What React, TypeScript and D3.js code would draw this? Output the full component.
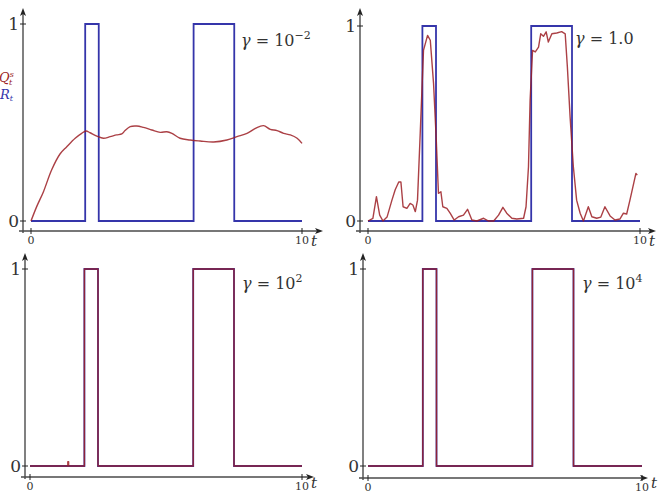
import * as d3 from "d3";

// reference signal R_t: a pair of rectangular pulses
const R_TIMES = [0, 2, 2.5, 6, 7.5, 10];
const R_VALUES = [0, 1, 0, 1, 0, 0];

// Q_t^s for gamma = 1e-2 (slow tracking)
const Q_LOW_T = [0, 0.21, 0.46, 0.76, 1.07, 1.32, 1.63, 1.87, 2.03, 2.18, 2.43, 2.67, 2.92, 3.16, 3.35, 3.47, 3.66, 3.9, 4.15, 4.46, 4.77, 5.01, 5.2, 5.5, 5.87, 6.24, 6.74, 7.23, 7.6, 7.97, 8.28, 8.58, 8.83, 9.08, 9.32, 9.57, 9.82, 10];
const Q_LOW_V = [0, 0.073, 0.149, 0.259, 0.34, 0.377, 0.42, 0.445, 0.457, 0.448, 0.431, 0.42, 0.428, 0.437, 0.442, 0.459, 0.479, 0.482, 0.475, 0.462, 0.45, 0.453, 0.445, 0.42, 0.411, 0.406, 0.401, 0.411, 0.428, 0.445, 0.47, 0.484, 0.465, 0.459, 0.445, 0.437, 0.42, 0.394];

// Q_t^s for gamma = 1.0 (noisy tracking)
const Q_MID_T = [0, 0.18, 0.31, 0.43, 0.55, 0.7, 0.88, 1.0, 1.13, 1.21, 1.29, 1.43, 1.55, 1.65, 1.74, 1.82, 1.92, 2.04, 2.19, 2.29, 2.41, 2.51, 2.59, 2.68, 2.75, 2.9, 3.02, 3.17, 3.33, 3.51, 3.66, 3.82, 4.0, 4.25, 4.43, 4.62, 4.8, 4.96, 5.1, 5.29, 5.47, 5.72, 5.81, 5.9, 5.96, 6.05, 6.15, 6.27, 6.35, 6.45, 6.55, 6.63, 6.76, 6.94, 7.12, 7.25, 7.33, 7.43, 7.55, 7.67, 7.8, 7.92, 8.1, 8.23, 8.41, 8.56, 8.71, 8.9, 9.08, 9.26, 9.39, 9.51, 9.63, 9.85, 9.9];
const Q_MID_V = [0, 0.014, 0.125, 0.03, 0, 0.02, 0.107, 0.16, 0.2, 0.2, 0.073, 0.065, 0.09, 0.082, 0.048, 0.107, 0.45, 0.875, 0.952, 0.927, 0.705, 0.415, 0.142, 0.15, 0.073, 0.065, 0.04, 0.005, 0.022, 0.03, 0.06, 0.005, 0, 0.014, 0, 0, 0.03, 0.07, 0.04, 0.014, 0.01, 0.014, 0.073, 0.278, 0.62, 0.875, 0.867, 0.892, 0.96, 0.947, 0.97, 0.918, 0.96, 0.964, 0.971, 0.96, 0.79, 0.534, 0.278, 0.107, 0.04, 0, 0.073, 0.022, 0.014, 0.02, 0.073, 0.026, 0.005, 0.01, 0.04, 0.036, 0.107, 0.244, 0.235];

// Q_t^s for gamma = 1e2: the pulses plus one small blip
const Q_HIGH_T = [0, 1.39, 1.42, 2, 2.5, 6, 7.5, 10];
const Q_HIGH_V = [0, 0.022, 0, 1, 0, 1, 0, 0];

const GAMMA_BASE = ["10", "1.0", "10", "10"];
const GAMMA_EXP = ["−2", "", "2", "4"];

const BLUE = "#3535aa";
const RED = "#9c1f24";
const AXIS = "#4a4a4a";
const SERIF = "DejaVu Serif";

type Pt = [number, number];
const zip = (t: number[], v: number[]): Pt[] => t.map((d, i) => [d, v[i]]);

interface PanelProps {
  x0: number; x1: number; y0: number; y1: number;
  axisX: number; axisY: number; xEnd: number; yTop: number;
  q: Pt[]; qStep: boolean; qSmooth?: boolean;
  base: string; exp: string; labelX: number; labelY: number;
  showLegend?: boolean;
}

function Panel(p: PanelProps) {
  const x = d3.scaleLinear().domain([0, 10]).range([p.x0, p.x1]);
  const y = d3.scaleLinear().domain([0, 1]).range([p.y0, p.y1]);
  const stepLine = d3.line<Pt>().x(d => x(d[0])).y(d => y(d[1])).curve(d3.curveStepAfter);
  const qLine = d3.line<Pt>().x(d => x(d[0])).y(d => y(d[1]))
    .curve(p.qStep ? d3.curveStepAfter : p.qSmooth ? d3.curveCatmullRom : d3.curveLinear);
  const r = zip(R_TIMES, R_VALUES);
  return (
    <g>
      {/* axes with arrow heads */}
      <line x1={p.axisX - 4} x2={p.xEnd - 4} y1={p.axisY} y2={p.axisY} stroke={AXIS} strokeWidth={1.4} />
      <path d={`M${p.xEnd},${p.axisY} l-8,-3 l2,3 l-2,3 z`} fill="#222" />
      <line x1={p.axisX} x2={p.axisX} y1={p.axisY + 2} y2={p.yTop + 4} stroke={AXIS} strokeWidth={1.4} />
      <path d={`M${p.axisX},${p.yTop} l-3,8 l3,-2 l3,2 z`} fill="#222" />
      {[0, 1].map(v => (
        <g key={v}>
          <line x1={p.axisX - 3} x2={p.axisX + 3} y1={y(v)} y2={y(v)} stroke="#222" strokeWidth={1} />
          <text x={p.axisX - 4} y={y(v) + 6} textAnchor="end" fontFamily={SERIF} fontSize={17} fill="#333">{v}</text>
        </g>
      ))}
      {[0, 10].map(v => (
        <g key={v}>
          <line x1={x(v)} x2={x(v)} y1={p.axisY - 3} y2={p.axisY + 3} stroke="#222" strokeWidth={1} />
          <text x={x(v)} y={p.axisY + 13} textAnchor="middle" fontFamily={SERIF} fontSize={11} fill="#333">{v}</text>
        </g>
      ))}
      <text x={x(10) + 9} y={Math.min(p.axisY + 15, 488)} fontFamily={SERIF} fontStyle="italic" fontSize={15} fill="#333">t</text>
      {/* R_t and Q_t^s */}
      <path d={stepLine(r) ?? ""} fill="none" stroke={BLUE} strokeWidth={1.8} />
      <path d={qLine(p.q) ?? ""} fill="none" stroke={RED} strokeWidth={1.4} strokeOpacity={0.85} strokeLinejoin="round" />
      <text x={p.labelX} y={p.labelY} fontFamily={SERIF} fontSize={16} fill="#333">
        <tspan fontStyle="italic">γ</tspan> = {p.base}
        {p.exp && <tspan dy={-7} fontSize={11}>{p.exp}</tspan>}
      </text>
      {p.showLegend && (
        <g fontFamily={SERIF} fontStyle="italic">
          <text x={-1} y={82} fontSize={13} fill={RED}>Q<tspan dy={-5} fontSize={8}>s</tspan></text>
          <text x={9} y={85} fontSize={8} fill={RED} fontStyle="italic">t</text>
          <text x={0} y={99} fontSize={13} fill={BLUE}>R<tspan dy={2} fontSize={8}>t</tspan></text>
        </g>
      )}
    </g>
  );
}

export default function App() {
  return (
    <svg width={660} height={494} style={{ position: "fixed", left: 0, top: 0, background: "#fff" }}>
      <Panel x0={31} x1={302} y0={221} y1={24} axisX={23} axisY={231} xEnd={323} yTop={8}
        q={zip(Q_LOW_T, Q_LOW_V)} qStep={false} qSmooth base={GAMMA_BASE[0]} exp={GAMMA_EXP[0]}
        labelX={241} labelY={46} showLegend />
      <Panel x0={368} x1={640} y0={221} y1={26} axisX={360} axisY={231} xEnd={656} yTop={8}
        q={zip(Q_MID_T, Q_MID_V)} qStep={false} base={GAMMA_BASE[1]} exp={GAMMA_EXP[1]}
        labelX={575} labelY={44} />
      <Panel x0={30} x1={302} y0={466} y1={269} axisX={25} axisY={477} xEnd={314} yTop={253}
        q={zip(Q_HIGH_T, Q_HIGH_V)} qStep base={GAMMA_BASE[2]} exp={GAMMA_EXP[2]}
        labelX={242} labelY={289} />
      <Panel x0={368} x1={642} y0={466} y1={269} axisX={363} axisY={478} xEnd={648} yTop={253}
        q={zip(R_TIMES, R_VALUES)} qStep base={GAMMA_BASE[3]} exp={GAMMA_EXP[3]}
        labelX={582} labelY={289} />
    </svg>
  );
}
